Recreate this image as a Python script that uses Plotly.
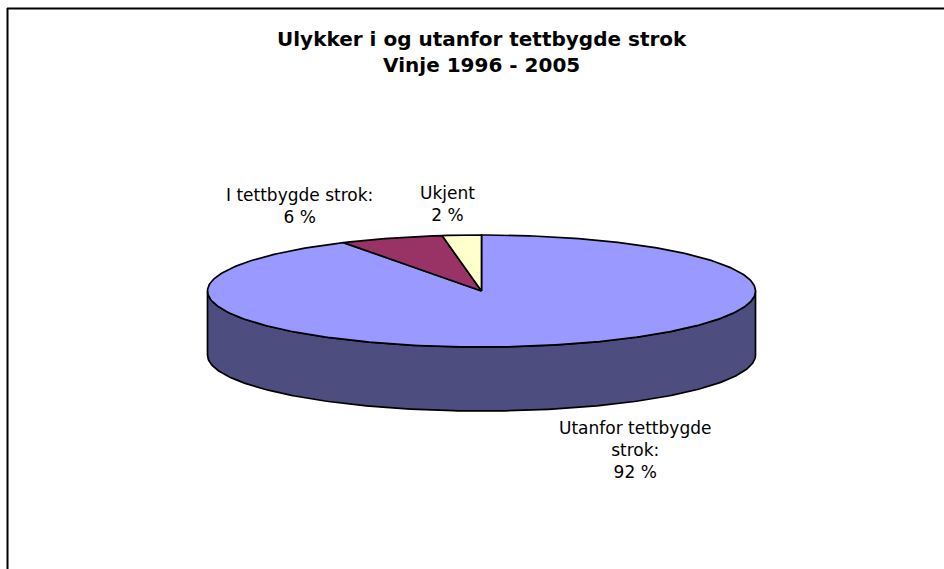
import numpy as np
import plotly.graph_objects as go

# ---- data ----
categories = ["Utanfor tettbygde strok:", "I tettbygde strok:", "Ukjent"]
values = [91.6, 6.1, 2.3]
title_lines = ["Ulykker i og utanfor tettbygde strok", "Vinje 1996 - 2005"]

# ---- style / geometry (layout only) ----
top_colors = ["#9999FF", "#993366", "#FFFFCC"]
side_colors = ["#4D4D80", "#4D1A33", "#808066"]
label_texts = ["Utanfor tettbygde<br>strok:", "I tettbygde strok:", "Ukjent"]
label_offsets = [(82, 41), (-92, -32), (-14, -31)]   # px from slice rim to label centre
W, H = 944, 569
CX, CY, RX, RY, DEPTH = 481.5, 291.0, 274.0, 56.0, 64.0
LINE = dict(color="black", width=1.7)


def pt(theta, dz=0.0):
    return CX + RX * np.sin(theta), CY - RY * np.cos(theta) + dz


fig = go.Figure()

total = float(sum(values))
fracs = [v / total for v in values]
bounds = np.concatenate([[0.0], np.cumsum(fracs)]) * 2 * np.pi

# sides (front half visible: angles pi/2 .. 3pi/2)
for i in range(len(values)):
    a0, a1 = max(bounds[i], np.pi / 2), min(bounds[i + 1], 3 * np.pi / 2)
    if a1 <= a0:
        continue
    th = np.linspace(a0, a1, 200)
    xt, yt = pt(th)
    xb, yb = pt(th[::-1], DEPTH)
    xs = np.concatenate([xt, xb, [xt[0]]])
    ys = np.concatenate([yt, yb, [yt[0]]])
    fig.add_trace(go.Scatter(x=xs, y=ys, mode="lines", fill="toself",
                             fillcolor=side_colors[i], line=LINE,
                             hoverinfo="skip", showlegend=False))

# top faces
for i in range(len(values)):
    th = np.linspace(bounds[i], bounds[i + 1], max(8, int(400 * fracs[i])))
    xa, ya = pt(th)
    xs = np.concatenate([[CX], xa, [CX]])
    ys = np.concatenate([[CY], ya, [CY]])
    fig.add_trace(go.Scatter(x=xs, y=ys, mode="lines", fill="toself",
                             fillcolor=top_colors[i], line=LINE,
                             hoverinfo="skip", showlegend=False))

# data labels
annotations = []
for i, name in enumerate(categories):
    mid = (bounds[i] + bounds[i + 1]) / 2
    rx, ry = pt(mid, DEPTH if np.cos(mid) < 0 else 0.0)
    dx, dy = label_offsets[i]
    pct = f"{fracs[i] * 100:.0f} %"
    annotations.append(dict(x=rx + dx, y=ry + dy, xref="x", yref="y",
                            text=label_texts[i] + "<br>" + pct,
                            showarrow=False, align="center",
                            xanchor="center", yanchor="middle",
                            font=dict(family="DejaVu Sans", size=17, color="black")))

# title
annotations.append(dict(x=CX, y=51.5, xref="x", yref="y",
                        text="<b>" + "<br>".join(title_lines) + "</b>",
                        showarrow=False, align="center",
                        xanchor="center", yanchor="middle",
                        font=dict(family="DejaVu Sans", size=20, color="black")))

fig.update_layout(
    width=W, height=H,
    margin=dict(l=0, r=0, t=0, b=0),
    paper_bgcolor="white", plot_bgcolor="white",
    xaxis=dict(range=[0, W], visible=False, fixedrange=True),
    yaxis=dict(range=[H, 0], visible=False, fixedrange=True),
    annotations=annotations,
    shapes=[
        dict(type="line", xref="paper", yref="paper",
             x0=7 / W, y0=1 - 8.5 / H, x1=1, y1=1 - 8.5 / H,
             line=dict(color="black", width=2)),
        dict(type="line", xref="paper", yref="paper",
             x0=7.5 / W, y0=1 - 8 / H, x1=7.5 / W, y1=0,
             line=dict(color="black", width=2)),
    ],
)

fig.write_html(
    "out.html",
    config={"displayModeBar": False, "responsive": False},
    post_script=("document.documentElement.style.margin='0';"
                 "document.documentElement.style.padding='0';"
                 "document.documentElement.style.overflow='hidden';"
                 "document.body.style.margin='0';"
                 "document.body.style.padding='0';"
                 "document.body.style.overflow='hidden';"
                 "document.documentElement.style.background='white';"),
)
